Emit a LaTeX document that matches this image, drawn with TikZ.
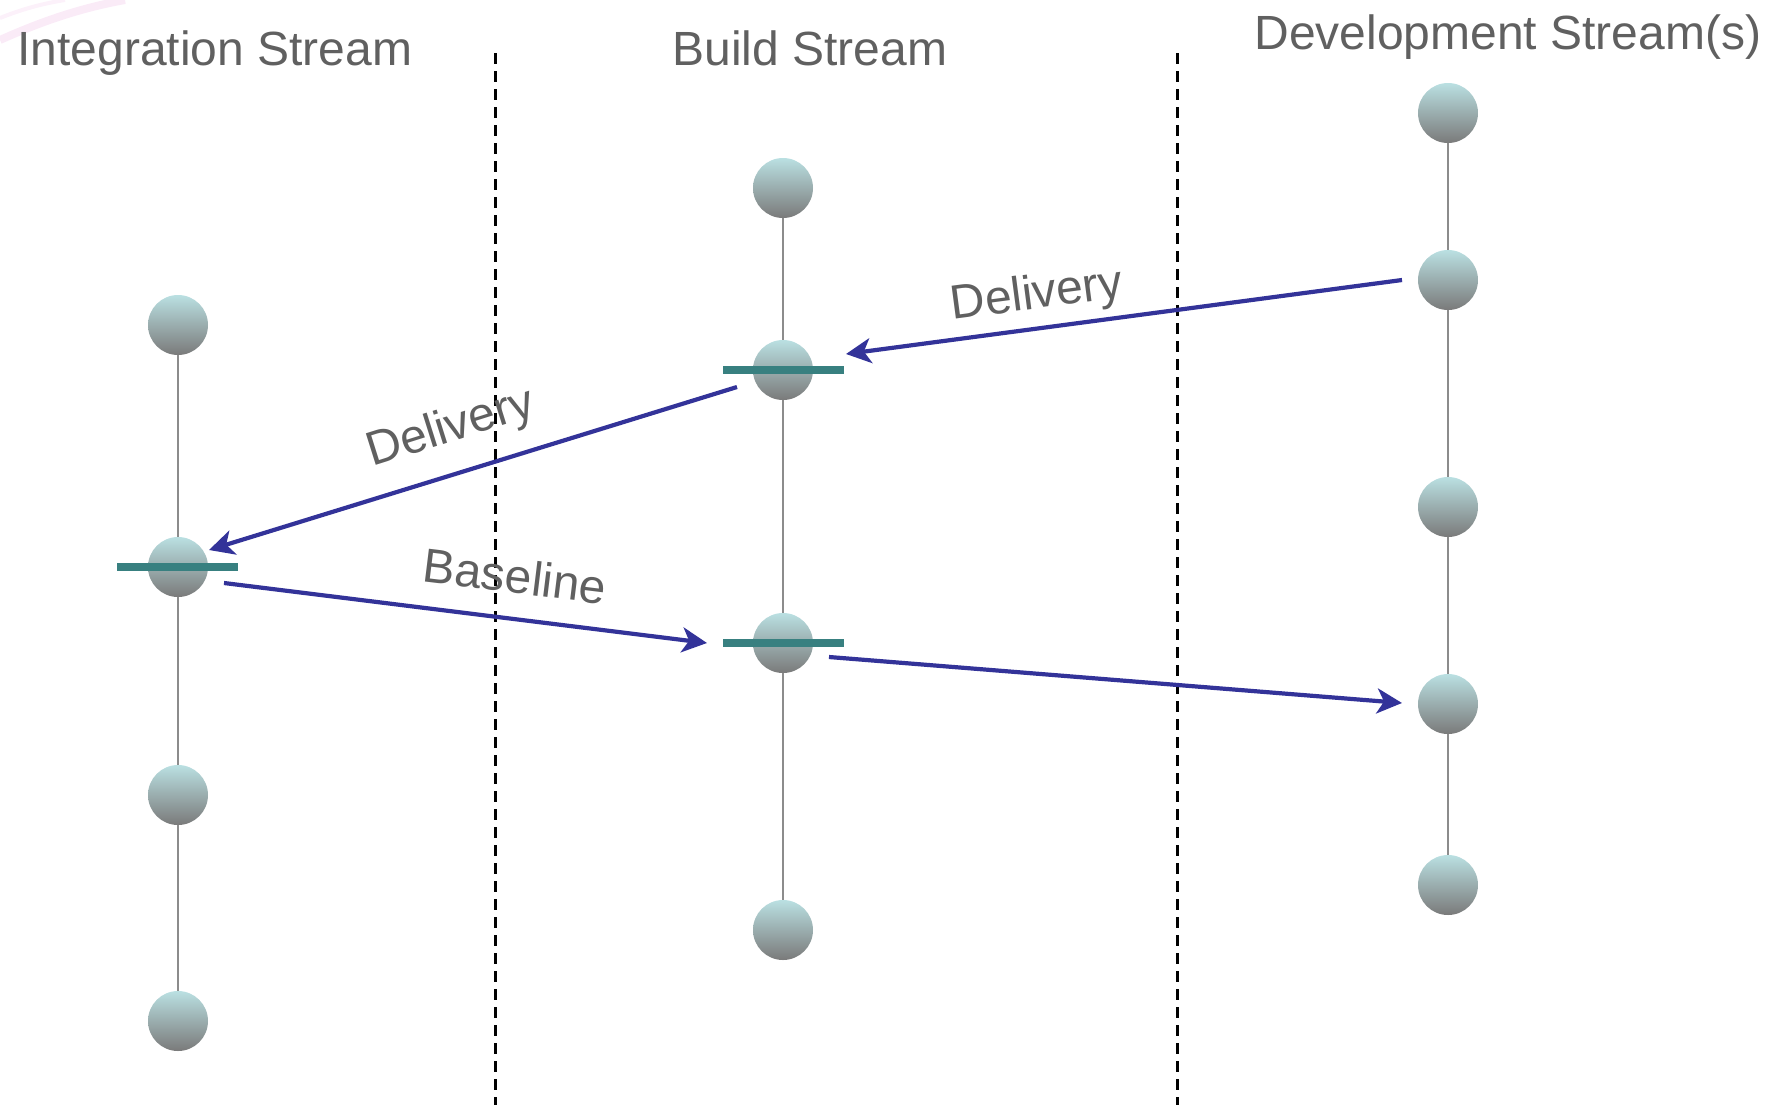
\documentclass[tikz,border=0pt]{standalone}
\usepackage{fontspec}
\setmainfont{Liberation Sans}
\usetikzlibrary{arrows.meta}
\definecolor{txtgray}{RGB}{96,96,96}
\definecolor{arrowblue}{RGB}{51,51,153}
\definecolor{barteal}{RGB}{56,128,128}
\definecolor{balltop}{RGB}{186,224,226}
\definecolor{ballbot}{RGB}{122,122,122}
\definecolor{linegray}{RGB}{140,140,140}
\definecolor{swoosh}{RGB}{245,215,240}
\tikzset{
  ball/.style={circle, minimum size=30pt, inner sep=0pt, shading=axis, top color=balltop, bottom color=ballbot},
  bar/.style={rectangle, minimum width=60.5pt, minimum height=4pt, inner sep=0pt, fill=barteal},
  streamline/.style={draw=linegray, line width=1pt},
  flow/.style={draw=arrowblue, line width=2.1pt, -{Stealth[length=12.5pt, width=12.5pt, inset=3.5pt]}},
  title/.style={text=txtgray, font=\fontsize{24pt}{28pt}\selectfont, inner sep=0pt, anchor=base west},
  lbl/.style={text=txtgray, font=\fontsize{24pt}{28pt}\selectfont, inner sep=0pt},
  divider/.style={draw=black, line width=1.5pt, dash pattern=on 5.5pt off 3.5pt}
}
\begin{document}
\begin{tikzpicture}[x=0.5pt, y=-0.5pt]
\useasboundingbox (0,0) rectangle (1768,1109);
% faint decorative swoosh
\draw[swoosh, line width=4pt, opacity=0.5] (0,40) .. controls (40,22) and (80,8) .. (125,0);
\draw[swoosh, line width=2pt, opacity=0.35] (0,18) .. controls (20,10) and (40,4) .. (65,0);
% titles
\node[title] (tInt) at (17,65) {Integration Stream};
\node[title] (tBuild) at (672,65) {Build Stream};
\node[title] (tDev) at (1254,49) {Development Stream(s)};
% dividers
\coordinate (v1a) at (495,53); \coordinate (v1b) at (495,1105);
\coordinate (v2a) at (1177,53); \coordinate (v2b) at (1177,1105);
\draw[divider] (v1a) -- (v1b);
\draw[divider] (v2a) -- (v2b);
% integration stream
\node[ball] (i1) at (178,325) {};
\node[ball] (i2) at (178,567) {};
\node[ball] (i3) at (178,795) {};
\node[ball] (i4) at (178,1021) {};
% build stream
\node[ball] (b1) at (783,188) {};
\node[ball] (b2) at (783,370) {};
\node[ball] (b3) at (783,643) {};
\node[ball] (b4) at (783,930) {};
% development stream
\node[ball] (d1) at (1448,113) {};
\node[ball] (d2) at (1448,280) {};
\node[ball] (d3) at (1448,507) {};
\node[ball] (d4) at (1448,704) {};
\node[ball] (d5) at (1448,885) {};
% stream lines
\draw[streamline] (i1) -- (i2); \draw[streamline] (i2) -- (i3); \draw[streamline] (i3) -- (i4);
\draw[streamline] (b1) -- (b2); \draw[streamline] (b2) -- (b3); \draw[streamline] (b3) -- (b4);
\draw[streamline] (d1) -- (d2); \draw[streamline] (d2) -- (d3); \draw[streamline] (d3) -- (d4); \draw[streamline] (d4) -- (d5);
% bars
\node[bar] (barI) at (177.5,567) {};
\node[bar] (barB1) at (783,370) {};
\node[bar] (barB2) at (783,643) {};
% arrow endpoints
\coordinate (a1s) at (1402,280); \coordinate (a1e) at (846,354);
\coordinate (a2s) at (737,387); \coordinate (a2e) at (209,550);
\coordinate (a3s) at (224,583); \coordinate (a3e) at (707,643);
\coordinate (a4s) at (829,657); \coordinate (a4e) at (1402,703);
\draw[flow] (a1s) -- (a1e);
\draw[flow] (a2s) -- (a2e);
\draw[flow] (a3s) -- (a3e);
\draw[flow] (a4s) -- (a4e);
% labels
\node[lbl, rotate=7.5] (lDel1) at (1037,296) {Delivery};
\node[lbl, rotate=17.5] (lDel2) at (451,429) {Delivery};
\node[lbl, rotate=-7] (lBase) at (515,576) {Baseline};
\end{tikzpicture}
\end{document}
